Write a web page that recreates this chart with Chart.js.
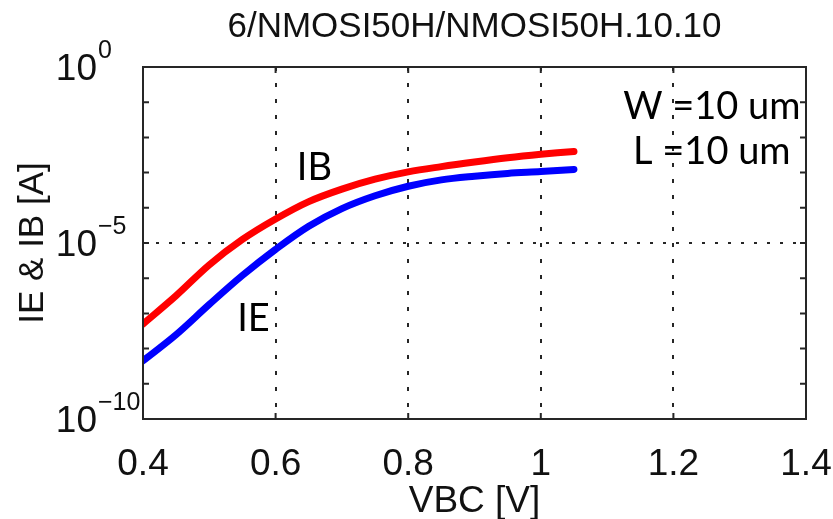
<!DOCTYPE html>
<html>
<head>
<meta charset="utf-8">
<script src="https://cdn.jsdelivr.net/npm/chart.js@4.4.1/dist/chart.umd.min.js"></script>
<style>
  html, body { margin: 0; padding: 0; background: #fff; }
</style>
</head>
<body>
<canvas id="myChart" width="833" height="519"></canvas>
<script>
const TITLE = '6/NMOSI50H/NMOSI50H.10.10';
const X_TITLE = 'VBC [V]';
const Y_TITLE = 'IE & IB [A]';

// values
const vbc = [0.40, 0.45, 0.50, 0.55, 0.60, 0.65, 0.70, 0.75, 0.80, 0.85, 0.90, 0.95, 1.00, 1.05];
const ib = [5.0e-8, 3.2e-7, 2.4e-6, 1.26e-5, 4.8e-5, 1.5e-4, 3.4e-4, 6.5e-4, 1.05e-3, 1.48e-3, 2.0e-3, 2.63e-3, 3.3e-3, 4.0e-3];
const ie = [4.5e-9, 2.5e-8, 1.8e-7, 1.2e-6, 6.6e-6, 3.0e-5, 9.5e-5, 2.2e-4, 4.1e-4, 6.2e-4, 7.9e-4, 9.5e-4, 1.07e-3, 1.23e-3];

const xTicks = [0.4, 0.6, 0.8, 1.0, 1.2, 1.4];
const yTicks = [1e-10, 1e-9, 1e-8, 1e-7, 1e-6, 1e-5, 1e-4, 1e-3, 1e-2, 1e-1, 1];
const yLabelled = [1, 1e-5, 1e-10];
const yGrid = [1e-5];

// text notes inside the plot, placed in data units
const notes = [
  { text: 'IB', x: 0.632, y: 6.2e-4, align: 'left' },
  { text: 'IE', x: 0.542, y: 3.1e-8, align: 'left' },
  { text: 'W =10 um', x: 1.258, y: 3.3e-2, align: 'center' },
  { text: 'L =10 um', x: 1.258, y: 1.75e-3, align: 'center' },
];

const SANS = '"Liberation Sans", Arial, sans-serif';
const NOTE_FONT = 'Lato, "Open Sans", sans-serif';

const isInner = (v, list) => v > list[0] + 1e-9 && v < list[list.length - 1] - 1e-9;

const frameAndText = {
  id: 'frameAndText',
  afterDraw(chart) {
    const { ctx, chartArea: a, scales } = chart;
    const xs = scales.x, ys = scales.y;
    ctx.save();

    // frame
    ctx.strokeStyle = '#262626';
    ctx.lineWidth = 2;
    ctx.strokeRect(a.left, a.top, a.right - a.left, a.bottom - a.top);

    // inward tick marks
    ctx.beginPath();
    xTicks.forEach(v => {
      const px = xs.getPixelForValue(v);
      ctx.moveTo(px, a.bottom); ctx.lineTo(px, a.bottom - 6);
      ctx.moveTo(px, a.top); ctx.lineTo(px, a.top + 6);
    });
    yTicks.forEach(v => {
      const py = ys.getPixelForValue(v);
      ctx.moveTo(a.left, py); ctx.lineTo(a.left + 6, py);
      ctx.moveTo(a.right, py); ctx.lineTo(a.right - 6, py);
    });
    ctx.stroke();

    ctx.fillStyle = '#111';

    // title
    ctx.font = '35px ' + SANS;
    ctx.textAlign = 'center';
    ctx.textBaseline = 'alphabetic';
    ctx.fillText(TITLE, (a.left + a.right) / 2, 37);

    // x tick labels
    ctx.font = '37px ' + SANS;
    xTicks.forEach(v => {
      const label = v === 1 ? '1' : String(v);
      ctx.fillText(label, xs.getPixelForValue(v), a.bottom + 56);
    });

    // x title
    ctx.fillText(X_TITLE, (a.left + a.right) / 2, a.bottom + 93);

    // y tick labels: 10 with superscript exponent
    yLabelled.forEach(v => {
      const py = ys.getPixelForValue(v);
      const exp = Math.round(Math.log10(v));
      const baseX = a.left - 46;
      ctx.font = '37px ' + SANS;
      ctx.textAlign = 'right';
      ctx.fillText('10', baseX, py + 13);
      ctx.font = '25px ' + SANS;
      ctx.textAlign = 'left';
      ctx.fillText(exp < 0 ? '\u2212' + (-exp) : String(exp), baseX + 1, py - 9);
    });

    // y title
    ctx.save();
    ctx.translate(43, (a.top + a.bottom) / 2);
    ctx.rotate(-Math.PI / 2);
    ctx.font = '35px ' + SANS;
    ctx.textAlign = 'center';
    ctx.fillText(Y_TITLE, 0, 0);
    ctx.restore();

    // notes
    ctx.font = '38px ' + NOTE_FONT;
    ctx.fillStyle = '#000';
    notes.forEach(n => {
      ctx.textAlign = n.align;
      ctx.fillText(n.text, xs.getPixelForValue(n.x), ys.getPixelForValue(n.y));
    });

    ctx.restore();
  },
};

new Chart(document.getElementById('myChart'), {
  type: 'line',
  data: {
    datasets: [
      {
        label: 'IE',
        data: vbc.map((v, i) => ({ x: v, y: ie[i] })),
        borderColor: '#0000ff',
        borderWidth: 7,
        pointRadius: 0,
        borderCapStyle: 'round',
        tension: 0.35,
      },
      {
        label: 'IB',
        data: vbc.map((v, i) => ({ x: v, y: ib[i] })),
        borderColor: '#ff0000',
        borderWidth: 7,
        pointRadius: 0,
        borderCapStyle: 'round',
        tension: 0.35,
      },
    ],
  },
  options: {
    responsive: false,
    animation: false,
    devicePixelRatio: 1,
    layout: { padding: { left: 143, top: 67, right: 27, bottom: 100 } },
    plugins: {
      legend: { display: false },
      title: { display: false },
      tooltip: { enabled: false },
    },
    scales: {
      x: {
        type: 'linear',
        min: 0.4,
        max: 1.4,
        afterBuildTicks: scale => { scale.ticks = xTicks.map(v => ({ value: v })); },
        ticks: { display: false },
        border: { display: false, dash: [4, 12] },
        grid: {
          drawTicks: false,
          lineWidth: 2,
          color: c => (c.tick && isInner(c.tick.value, xTicks) ? '#262626' : 'transparent'),
        },
      },
      y: {
        type: 'logarithmic',
        min: 1e-10,
        max: 1,
        afterBuildTicks: scale => { scale.ticks = yTicks.map(v => ({ value: v })); },
        ticks: { display: false },
        border: { display: false, dash: [3, 10] },
        grid: {
          drawTicks: false,
          lineWidth: 2,
          color: c => (c.tick && yGrid.includes(c.tick.value) ? '#262626' : 'transparent'),
        },
      },
    },
  },
  plugins: [frameAndText],
});
</script>
</body>
</html>
